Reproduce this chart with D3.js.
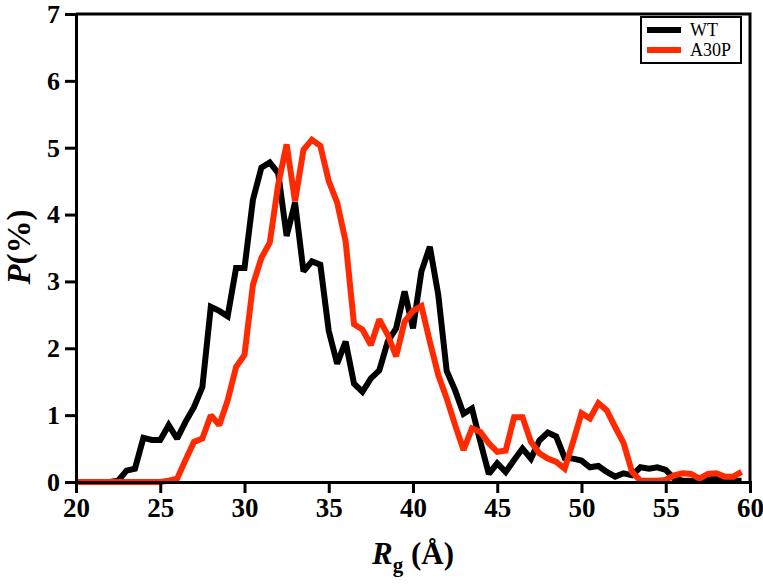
<!DOCTYPE html>
<html><head><meta charset="utf-8">
<script src="https://cdn.jsdelivr.net/npm/d3@7"></script>
<style>html,body{margin:0;padding:0;background:#fff;}</style>
</head><body>
<svg id="chart" width="763" height="588"></svg>
<script>
const rgValues = d3.range(20, 60, 0.5);
const wtValues = [0,0,0,0,0,0.02,0.17,0.2,0.66,0.63,0.63,0.85,0.65,0.9,1.12,1.42,2.62,2.56,2.48,3.2,3.2,4.22,4.7,4.78,4.62,3.68,4.18,3.15,3.3,3.25,2.26,1.77,2.1,1.47,1.35,1.55,1.67,2.1,2.3,2.85,2.3,3.15,3.52,2.8,1.66,1.37,1.02,1.1,0.6,0.12,0.28,0.15,0.33,0.5,0.35,0.62,0.74,0.68,0.36,0.35,0.32,0.22,0.24,0.15,0.08,0.13,0.1,0.22,0.2,0.22,0.18,0.05,0.02,0.02,0.02,0.04,0.05,0.02,0.02,0.02];
const a30pValues = [0,0,0,0,0,0,0,0,0,0,0,0.02,0.05,0.33,0.6,0.65,1.0,0.85,1.22,1.72,1.9,2.95,3.35,3.58,4.45,5.05,4.2,4.97,5.12,5.03,4.5,4.18,3.6,2.36,2.28,2.05,2.43,2.2,1.88,2.4,2.56,2.63,2.1,1.6,1.25,0.85,0.48,0.8,0.75,0.58,0.45,0.47,0.97,0.97,0.6,0.43,0.35,0.3,0.2,0.6,1.03,0.95,1.18,1.07,0.82,0.58,0.15,0.02,0.02,0.02,0.03,0.1,0.13,0.12,0.05,0.12,0.13,0.08,0.08,0.15];
const seriesNames = ["WT", "A30P"];
const seriesColors = ["#000000", "#ff2a00"];
const xTicks = [20,25,30,35,40,45,50,55,60];
const yTicks = [0,1,2,3,4,5,6,7];

const svg = d3.select("#chart");
const L = 76, R = 750, T = 14, B = 482;
const x = d3.scaleLinear().domain([20, 60]).range([L, R]);
const y = d3.scaleLinear().domain([0, 7]).range([B, T]);
const font = "'Liberation Serif','Times New Roman',serif";

// frame (top and right)
svg.append("path").attr("d", `M${L},${T}H${R}V${B}`).attr("fill","none").attr("stroke","#000").attr("stroke-width",3);

const series = [
  {name: seriesNames[0], color: seriesColors[0], vals: wtValues},
  {name: seriesNames[1], color: seriesColors[1], vals: a30pValues}
];
const line = d3.line().x((d,i)=>x(rgValues[i])).y(d=>y(d));
svg.append("g").selectAll("path.series").data(series).join("path")
  .attr("class","series")
  .attr("d", d => line(d.vals))
  .attr("fill","none").attr("stroke", d=>d.color)
  .attr("stroke-width",6).attr("stroke-linejoin","miter").attr("stroke-miterlimit",2);

// x axis
const xAxis = svg.append("g").attr("transform",`translate(0,${B})`);
xAxis.call(d3.axisBottom(x).tickValues(d3.range(20,61,1)).tickSize(6).tickFormat(""));
xAxis.call(d3.axisBottom(x).tickValues(xTicks).tickSize(11).tickPadding(5).tickFormat(d3.format("d")));
xAxis.selectAll("path.domain").attr("stroke-width",3);
xAxis.selectAll("line").attr("stroke-width",3);
xAxis.selectAll("text").attr("font-family",font).attr("font-weight","bold").attr("font-size",27).attr("fill","#000");

// y axis
const yAxis = svg.append("g").attr("transform",`translate(${L},0)`);
yAxis.call(d3.axisLeft(y).tickValues(d3.range(0,7.01,0.5)).tickSize(6).tickFormat(""));
yAxis.call(d3.axisLeft(y).tickValues(yTicks).tickSize(11).tickPadding(5).tickFormat(d3.format("d")));
yAxis.selectAll("path.domain").attr("stroke-width",3);
yAxis.selectAll("line").attr("stroke-width",3);
yAxis.selectAll("text").attr("font-family",font).attr("font-weight","bold").attr("font-size",26).attr("fill","#000");

// axis titles
const xt = svg.append("text").attr("x", 413).attr("y", 564).attr("text-anchor","middle")
  .attr("font-family",font).attr("font-weight","bold").attr("font-size",31);
xt.append("tspan").attr("font-style","italic").text("R");
xt.append("tspan").attr("font-size",21).attr("dy",8).text("g");
xt.append("tspan").attr("dy",-8).text(" (Å)");

const yt = svg.append("text").attr("transform","translate(30,247) rotate(-90)").attr("text-anchor","middle")
  .attr("font-family",font).attr("font-weight","bold").attr("font-size",33);
yt.append("tspan").attr("font-style","italic").text("P");
yt.append("tspan").text("(%)");

// legend
const lg = svg.append("g");
lg.append("rect").attr("x",641).attr("y",17).attr("width",100).attr("height",46)
  .attr("fill","#fff").attr("stroke","#000").attr("stroke-width",2);
series.forEach((s,i)=>{
  const yy = 30 + i*20;
  lg.append("line").attr("x1",647).attr("x2",681).attr("y1",yy).attr("y2",yy)
    .attr("stroke",s.color).attr("stroke-width",6);
  lg.append("text").attr("x",690).attr("y",yy+6).attr("font-family",font).attr("font-size",18)
    .attr("fill","#000").text(s.name);
});
</script>
</body></html>
